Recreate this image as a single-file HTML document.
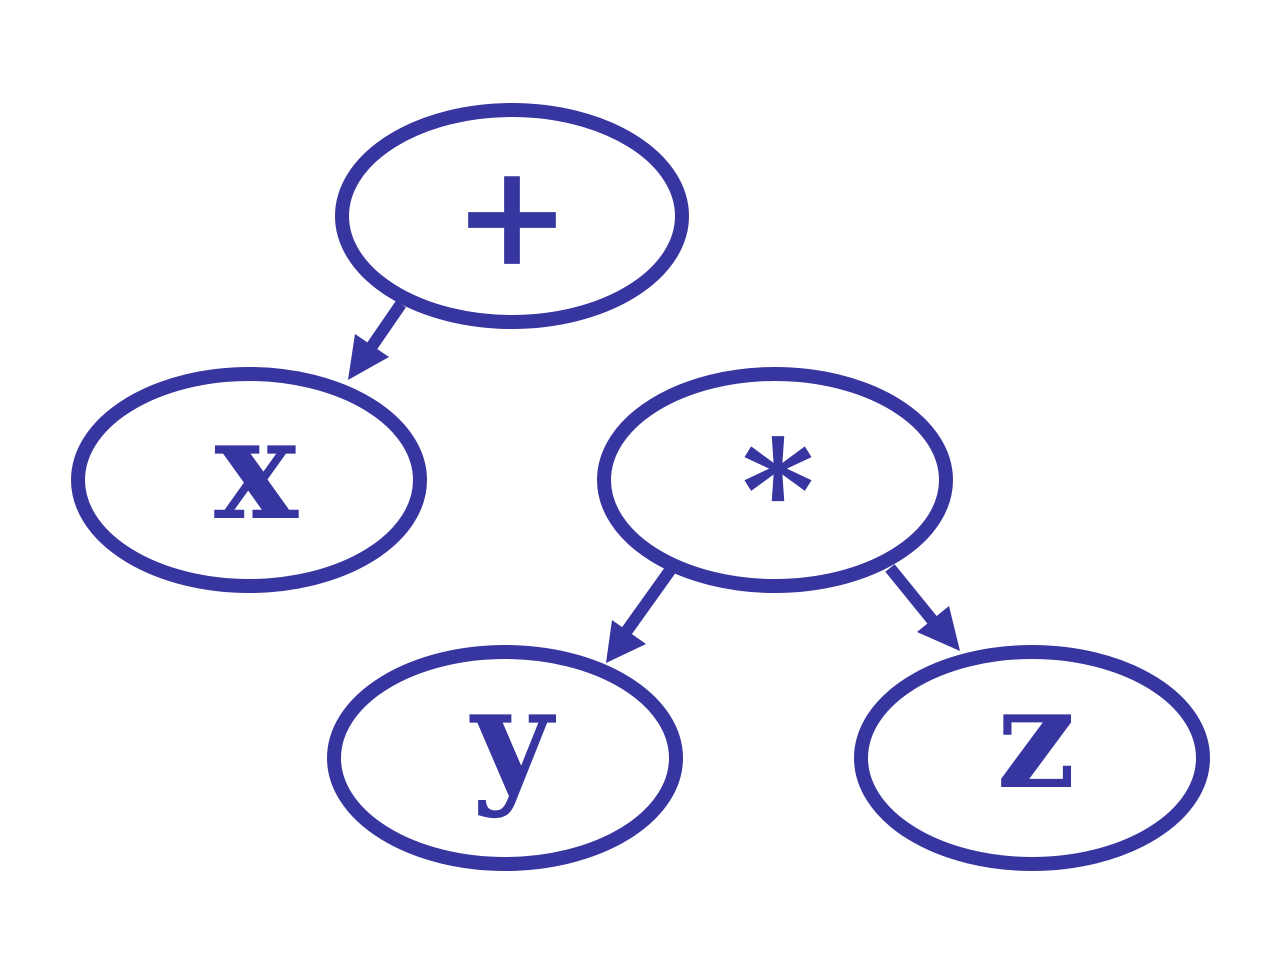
<!DOCTYPE html>
<html><head><style>html,body{margin:0;padding:0;background:#fff}</style></head>
<body>
<svg width="1280" height="960" viewBox="0 0 1280 960" xmlns="http://www.w3.org/2000/svg">
<g fill="none" stroke="#37359f" stroke-width="14">
<ellipse cx="512" cy="216" rx="170" ry="106"/>
<ellipse cx="249" cy="480" rx="171" ry="106"/>
<ellipse cx="775" cy="480" rx="171" ry="106"/>
<ellipse cx="505" cy="758" rx="171" ry="106"/>
<ellipse cx="1032" cy="758" rx="171" ry="106"/>
<line x1="401" y1="304" x2="368" y2="352" stroke-width="12"/>
<line x1="671" y1="569" x2="626" y2="632" stroke-width="12"/>
<line x1="890" y1="568" x2="933" y2="621" stroke-width="12"/>
</g>
<g fill="#37359f">
<polygon points="348,380 355,334 389,357"/>
<polygon points="606,663 612,620 646,644"/>
<polygon points="960,651 917,632 949,606"/>
</g>
<g fill="#37359f" font-family="'DejaVu Serif', serif" font-weight="bold" font-size="140" text-anchor="middle">
<text x="512" y="264">+</text>
<text x="256" y="518">x</text>
<text x="778" y="540">*</text>
<text x="512" y="787">y</text>
<text x="1036" y="787">z</text>
</g>
</svg>
</body></html>
